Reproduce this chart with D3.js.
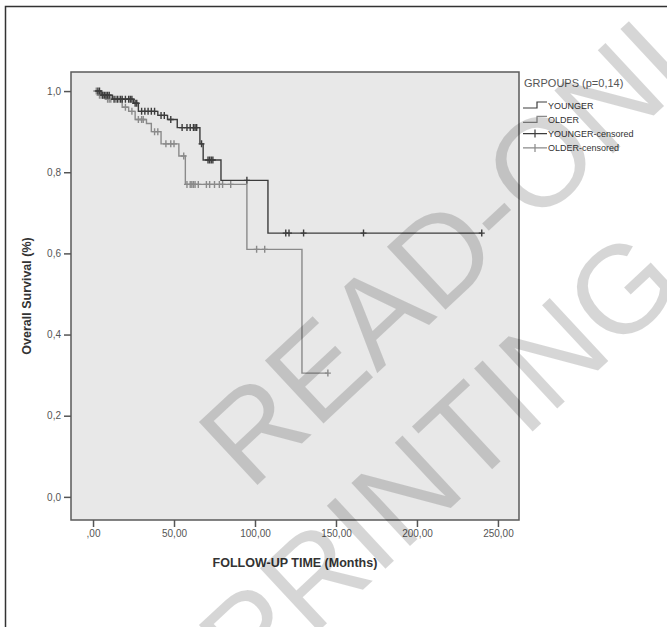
<!DOCTYPE html>
<html>
<head>
<meta charset="utf-8">
<script src="https://cdn.jsdelivr.net/npm/d3@7"></script>
<style>
  body { margin: 0; background: #fff; }
  text { font-family: Arial, "Liberation Sans", sans-serif; }
</style>
</head>
<body>
<script>
var width = 667
var height = 627

// Kaplan-Meier steps: time (months) and survival after that time
var youngerTimes = [2, 5, 12, 25, 28, 40, 46, 52, 66, 68, 79, 108, 240]
var youngerSurv  = [1.0, 0.99, 0.98, 0.97, 0.95, 0.94, 0.93, 0.91, 0.87, 0.83, 0.78, 0.65, 0.65]
var youngerCensored = [3, 4, 6, 7, 8, 9, 10, 13, 15, 17, 18, 20, 22, 23, 24, 26, 27, 30, 32, 34, 36,
                       38, 42, 44, 48, 55, 58, 60, 62, 63, 64, 67, 71, 72, 73, 74, 95, 119, 121, 130, 167, 240]

var olderTimes = [2, 3, 8, 18, 22, 26, 33, 36, 42, 53, 57, 95, 129, 145]
var olderSurv  = [1.0, 0.99, 0.98, 0.96, 0.95, 0.93, 0.92, 0.90, 0.87, 0.84, 0.77, 0.61, 0.305, 0.305]
var olderCensored = [2, 4, 5, 6, 9, 10, 11, 14, 16, 20, 24, 28, 30, 31, 38, 40, 45, 48, 50, 56,
                     58, 60, 61, 62, 63, 65, 70, 72, 75, 78, 80, 85, 101, 106, 145]

var xTicks = [0, 50, 100, 150, 200, 250]
var xTickLabels = [',00', '50,00', '100,00', '150,00', '200,00', '250,00']
var yTicks = [0, 0.2, 0.4, 0.6, 0.8, 1.0]
var yTickLabels = ['0,0', '0,2', '0,4', '0,6', '0,8', '1,0']

var legendTitle = 'GRPOUPS (p=0,14)'
var legendLabels = ['YOUNGER', 'OLDER', 'YOUNGER-censored', 'OLDER-censored']

var youngColor = '#3c3c3c'
var oldColor = '#8a8a8a'

var svg = d3.select('body')
			.append('svg')
			.attr('width', width)
			.attr('height', height)

// outer frame
svg.append('rect')
	.attr('x', 5.5).attr('y', 6.5)
	.attr('width', 700).attr('height', 700)
	.attr('fill', 'none')
	.attr('stroke', '#333')
	.attr('stroke-width', 1.5)

var plot = {left: 71, right: 519, top: 72, bottom: 520}

var x = d3.scaleLinear().domain([-13.6, 263]).range([plot.left, plot.right])
var y = d3.scaleLinear().domain([-0.057, 1.047]).range([plot.bottom, plot.top])

svg.append('rect')
	.attr('x', plot.left).attr('y', plot.top)
	.attr('width', plot.right - plot.left)
	.attr('height', plot.bottom - plot.top)
	.attr('fill', '#e8e8e8')
	.attr('stroke', '#5a5a5a')
	.attr('stroke-width', 1.5)

var xAxis = svg.append('g')
	.attr('transform', 'translate(0,' + plot.bottom + ')')
	.call(d3.axisBottom(x).tickValues(xTicks).tickSize(7).tickSizeOuter(0)
		.tickFormat(function(d, i){ return xTickLabels[i] }))
var yAxis = svg.append('g')
	.attr('transform', 'translate(' + plot.left + ',0)')
	.call(d3.axisLeft(y).tickValues(yTicks).tickSize(7).tickSizeOuter(0)
		.tickFormat(function(d, i){ return yTickLabels[i] }))

svg.selectAll('.domain').remove()
svg.selectAll('.tick line').attr('stroke', '#555').attr('stroke-width', 1.5)
svg.selectAll('.tick text')
	.attr('fill', '#555')
	.style('font-size', '10px')
	.style('font-family', 'Arial, "Liberation Sans", sans-serif')

svg.append('text')
	.attr('x', (plot.left + plot.right) / 2)
	.attr('y', 567)
	.attr('text-anchor', 'middle')
	.attr('font-weight', 'bold')
	.attr('font-size', 12.5)
	.attr('fill', '#333')
	.text('FOLLOW-UP TIME (Months)')

svg.append('text')
	.attr('transform', 'translate(31,' + (plot.top + plot.bottom) / 2 + ') rotate(-90)')
	.attr('text-anchor', 'middle')
	.attr('font-weight', 'bold')
	.attr('font-size', 12.5)
	.attr('fill', '#333')
	.text('Overall Survival (%)')

function survAt(times, surv, t) {
	var s = surv[0]
	for (var i = 0; i < times.length; i++) {
		if (times[i] <= t) s = surv[i]
	}
	return s
}

var step = d3.line()
	.x(function(d){ return x(d[0]) })
	.y(function(d){ return y(d[1]) })
	.curve(d3.curveStepAfter)

var groups = [
	{times: olderTimes, surv: olderSurv, cens: olderCensored, color: oldColor},
	{times: youngerTimes, surv: youngerSurv, cens: youngerCensored, color: youngColor}
]

groups.forEach(function(g) {
	svg.append('path')
		.datum(d3.zip(g.times, g.surv))
		.attr('d', step)
		.attr('fill', 'none')
		.attr('stroke', g.color)
		.attr('stroke-width', 1.4)

	svg.selectAll(null)
		.data(g.cens)
		.enter()
		.append('path')
		.attr('transform', function(d){
			return 'translate(' + x(d) + ',' + y(survAt(g.times, g.surv, d)) + ')'
		})
		.attr('d', 'M-3,0H3M0,-3.5V3.5')
		.attr('stroke', g.color)
		.attr('stroke-width', 1.4)
})

// legend
var legend = svg.append('g').attr('transform', 'translate(523,0)')
legend.append('text')
	.attr('x', 1).attr('y', 87)
	.attr('font-size', 11)
	.attr('fill', '#555')
	.text(legendTitle)

var legendRows = legend.selectAll('g.row')
	.data(legendLabels)
	.enter()
	.append('g')
	.attr('transform', function(d, i){ return 'translate(0,' + (105 + i * 14.3) + ')' })

legendRows.append('path')
	.attr('d', function(d, i){
		return i < 2 ? 'M0,3H14V-3H24' : 'M0,0H24M12,-4V4'
	})
	.attr('fill', 'none')
	.attr('stroke', function(d, i){ return i % 2 == 0 ? youngColor : oldColor })
	.attr('stroke-width', 1.2)

legendRows.append('text')
	.attr('x', 25).attr('y', 3.5)
	.attr('font-size', 9)
	.attr('fill', '#333')
	.text(function(d){ return d })

// watermark
var wm = svg.append('g')
	.attr('fill', 'rgba(0,0,0,0.16)')
	.style('pointer-events', 'none')
wm.append('text')
	.attr('transform', 'translate(250,492) rotate(-43)')
	.attr('font-size', 125)
	.text('READ-ONLY')
wm.append('text')
	.attr('transform', 'translate(250,695) rotate(-43)')
	.attr('font-size', 125)
	.text('PRINTING')
</script>
</body>
</html>
